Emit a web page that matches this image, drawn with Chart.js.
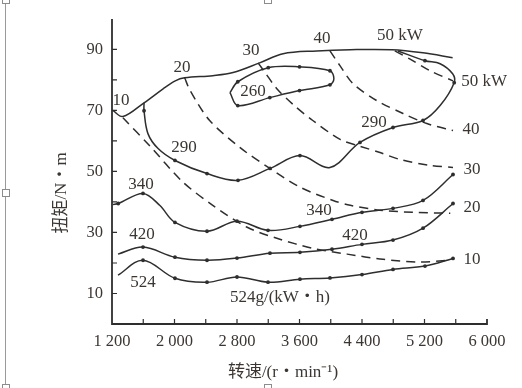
<!DOCTYPE html>
<html>
<head>
<meta charset="utf-8">
<script src="https://cdn.jsdelivr.net/npm/chart.js@4.4.1/dist/chart.umd.min.js"></script>
<style>
  html, body { margin: 0; padding: 0; background: #fff; }
  #wrap { position: relative; width: 522px; height: 388px; overflow: hidden; }
  #canvas { position: absolute; left: 0; top: 0; }
  .rail { position: absolute; left: 5px; top: 0; width: 1px; height: 388px; background: #9a9a9a; }
  .knob { position: absolute; width: 6px; height: 6px; border: 1px solid #8c8c8c; background: #fff; }
</style>
</head>
<body>
<div id="wrap">
  <canvas id="canvas" width="522" height="388"></canvas>
  <div class="rail"></div>
  <div class="knob" style="left:2px;top:-4px"></div>
  <div class="knob" style="left:2px;top:189px"></div>
  <div class="knob" style="left:2px;top:384px"></div>
  <div class="knob" style="left:264px;top:-4px"></div>
  <div class="knob" style="left:264px;top:384px"></div>
</div>
<script>
// speed (r/min) and torque (N·m) pairs
const fullLoad = [[1210, 70], [1340, 68], [1610, 72.5], [1850, 77], [2010, 79.7], [2130, 80.7],
  [2490, 81.4], [2750, 82.4], [3090, 85.6], [3390, 88.6], [3820, 89.5], [4250, 89.9],
  [4780, 89.9], [5180, 88.9], [5560, 87.3]];

const bsfc260 = [[2710, 75.8], [2810, 79.4], [3200, 84.0], [3600, 84.3], [3990, 83.0], [4040, 80.5],
  [3990, 78.4], [3600, 76.5], [3220, 74.2], [2810, 71.6], [2710, 75.8]];

const bsfc290 = [[1610, 72.5], [1610, 69.9], [1660, 62.4], [1790, 57.5], [2006, 53.6], [2416, 49.3],
  [2813, 47.1], [3222, 51.0], [3606, 55.2], [3990, 51.3], [4374, 59.5], [4797, 64.4],
  [5181, 66.7], [5400, 71.6], [5580, 79.1], [5560, 82.0], [5400, 85.3], [5206, 86.3], [4861, 89.5]];

const bsfc340 = [[1210, 39.2], [1280, 39.5], [1597, 42.8], [1810, 38.9], [2006, 33.3], [2416, 30.4],
  [2800, 33.7], [3197, 30.7], [3606, 32.0], [4016, 34.3], [4400, 36.6], [4797, 37.9],
  [5181, 40.5], [5565, 49.0]];

const bsfc420 = [[1277, 22.9], [1597, 25.2], [2006, 21.9], [2416, 20.9], [2800, 21.6], [3222, 23.2],
  [3606, 23.5], [4016, 24.5], [4400, 26.1], [4797, 27.5], [5181, 31.4], [5565, 39.5]];

const bsfc524 = [[1277, 16.0], [1597, 20.9], [2006, 15.0], [2416, 13.7], [2800, 15.4], [3197, 13.7],
  [3606, 14.7], [3990, 15.1], [4400, 16.2], [4797, 17.9], [5206, 19.0], [5565, 21.5]];

const power10 = [[1340, 67.6], [1690, 58.2], [2100, 46.7], [2490, 38.9], [2930, 31.7], [3310, 28.1],
  [3770, 24.8], [4210, 22.9], [4670, 21.2], [5140, 20.3], [5530, 20.9]];
const power20 = [[2130, 80.7], [2200, 76.5], [2450, 66.7], [2840, 57.8], [3220, 51.0], [3610, 44.8],
  [4030, 40.5], [4250, 38.9], [4630, 37.3], [5050, 36.6], [5530, 36.3]];
const power30 = [[3070, 85.6], [3160, 82.4], [3310, 77.1], [3520, 71.9], [3770, 66.7], [4120, 60.5],
  [4370, 58.3], [4630, 56.2], [4890, 53.9], [5270, 52.0], [5565, 51.3]];
const power40 = [[3990, 89.5], [4120, 84.6], [4285, 78.8], [4590, 73.2], [4925, 69.0], [5230, 65.7],
  [5565, 63.4]];
const power50 = [[4820, 89.5], [5010, 86.9], [5270, 83.0], [5565, 79.7]];

// curve labels: text, speed, torque
const notes = [
  ['10', 1315, 73.2], ['20', 2096, 84.0], ['30', 2979, 89.5], ['40', 3888, 93.5], ['50 kW', 4886, 94.4],
  ['50 kW', 5962, 79.4], ['40', 5795, 63.7], ['30', 5808, 50.7], ['20', 5808, 38.2], ['10', 5808, 21.2],
  ['260', 3005, 76.1], ['290', 2122, 57.8], ['290', 4554, 66.0], ['340', 1571, 45.8], ['340', 3850, 37.3],
  ['420', 1584, 29.4], ['420', 4310, 29.1], ['524', 1597, 13.7], ['524g/(kW・h)', 3350, 8.8]
];

const ink = '#2e2e2e';
const textInk = '#3b3632';
const serif = '"Liberation Serif", "Noto Sans CJK SC", serif';

function pts(arr) {
  return arr.map(p => ({ x: p[0], y: p[1] }));
}

function solid(arr, noMark) {
  return {
    data: pts(arr),
    showLine: true,
    borderColor: ink,
    borderWidth: 1.5,
    tension: 0.35,
    pointRadius: arr.map((p, i) => noMark.includes(i) ? 0 : 1.9),
    pointBackgroundColor: ink,
    pointBorderWidth: 0,
    clip: false
  };
}

function dashed(arr) {
  return {
    data: pts(arr),
    showLine: true,
    borderColor: ink,
    borderWidth: 1.5,
    borderDash: [9, 6],
    tension: 0.3,
    pointRadius: 0,
    clip: false
  };
}

const drawExtras = {
  id: 'drawExtras',
  afterDraw(chart) {
    const c = chart.ctx;
    const xs = chart.scales.x;
    const ys = chart.scales.y;
    const left = xs.left, right = xs.right, bottom = ys.bottom;
    c.save();
    c.strokeStyle = ink;
    c.lineWidth = 1.8;
    c.beginPath();
    c.moveTo(left, 19);
    c.lineTo(left, bottom);
    c.lineTo(right, bottom);
    c.lineTo(right, bottom - 5);
    c.stroke();
    c.lineWidth = 1.2;
    c.beginPath();
    for (let v = 10; v <= 90; v += 10) {
      const py = ys.getPixelForValue(v);
      c.moveTo(left, py);
      c.lineTo(left + 5, py);
    }
    for (let v = 1600; v < 6000; v += 400) {
      const px = xs.getPixelForValue(v);
      c.moveTo(px, bottom);
      c.lineTo(px, bottom - 5);
    }
    c.stroke();

    c.fillStyle = textInk;
    c.font = '17px ' + serif;
    c.textAlign = 'center';
    c.textBaseline = 'middle';
    notes.forEach(n => {
      c.fillText(n[0], xs.getPixelForValue(n[1]), ys.getPixelForValue(n[2]));
    });

    c.font = '17px ' + serif;
    c.fillText('转速/(r・min⁻¹)', 283, 373);
    c.translate(62, 193);
    c.rotate(-Math.PI / 2);
    c.fillText('扭矩/N・m', 0, 0);
    c.restore();
  }
};

new Chart(document.getElementById('canvas'), {
  type: 'scatter',
  data: {
    datasets: [
      solid(fullLoad, fullLoad.map((p, i) => i)),
      solid(bsfc260, [0, 5, 10]),
      solid(bsfc290, [0, 2, 3, 9, 13, 15, 16, 18]),
      solid(bsfc340, [0, 3]),
      solid(bsfc420, [0]),
      solid(bsfc524, [0]),
      dashed(power10),
      dashed(power20),
      dashed(power30),
      dashed(power40),
      dashed(power50)
    ]
  },
  options: {
    responsive: false,
    animation: false,
    layout: { padding: { left: 0, right: 35, top: 18, bottom: 0 } },
    plugins: { legend: { display: false }, tooltip: { enabled: false } },
    scales: {
      x: {
        type: 'linear',
        min: 1200,
        max: 6000,
        afterFit(s) { s.height = 64; },
        grid: { display: false, drawTicks: false },
        border: { display: false },
        ticks: {
          stepSize: 400,
          padding: 8,
          maxRotation: 0,
          autoSkip: false,
          color: textInk,
          font: { family: serif, size: 16.5 },
          callback: v => ((v - 1200) % 800 === 0 ? String(v).replace(/(\d)(\d{3})$/, '$1 $2') : '')
        }
      },
      y: {
        type: 'linear',
        min: 0,
        max: 100,
        afterFit(s) { s.width = 112; },
        grid: { display: false, drawTicks: false },
        border: { display: false },
        ticks: {
          stepSize: 10,
          padding: 9,
          color: textInk,
          font: { family: serif, size: 16.5 },
          callback: v => (v % 20 === 10 ? String(v) : '')
        }
      }
    }
  },
  plugins: [drawExtras]
});
</script>
</body>
</html>
